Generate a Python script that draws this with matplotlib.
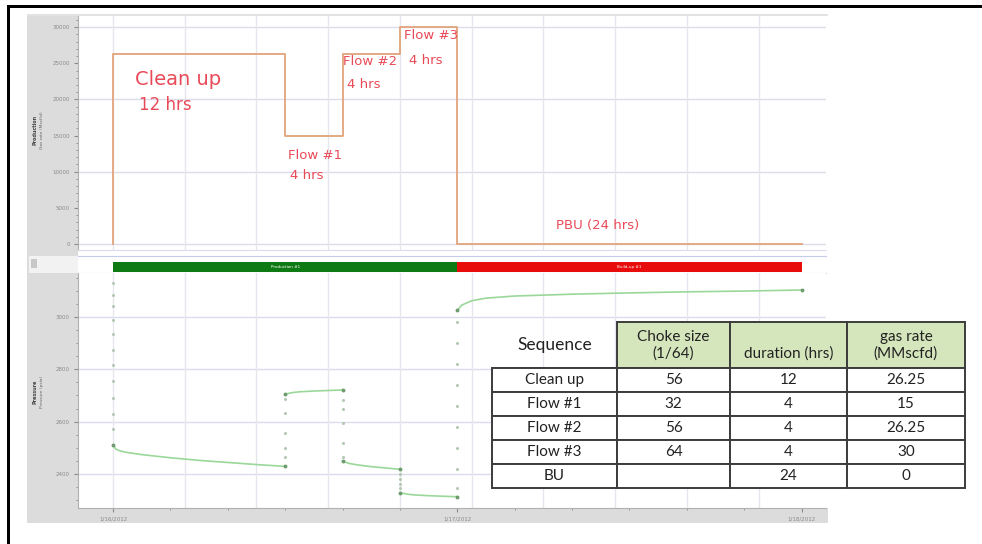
import matplotlib.pyplot as plt
from matplotlib.patches import Rectangle
from matplotlib.ticker import MultipleLocator, FixedLocator

# Well test sequence
stages = ['Clean up', 'Flow #1', 'Flow #2', 'Flow #3', 'BU']
choke_size = ['56', '32', '56', '64', '']
duration_hrs = [12, 4, 4, 4, 24]
gas_rate = [26.25, 15, 26.25, 30, 0]  # MMscfd

# Gauge pressure (hours from start of clean up, psia)
cleanup_t = [0.0, 0.2, 0.5, 1, 2, 4, 6, 8, 10, 12]
cleanup_p = [2510, 2495, 2488, 2482, 2474, 2462, 2452, 2444, 2436, 2429]
flow1_t = [12.0, 12.5, 13, 14, 15, 16]
flow1_p = [2705, 2711, 2714, 2717, 2719, 2721]
flow2_t = [16.0, 16.5, 17, 18, 19, 20]
flow2_p = [2448, 2440, 2435, 2428, 2423, 2418]
flow3_t = [20.0, 20.5, 21, 22, 23, 24]
flow3_p = [2328, 2323, 2320, 2317, 2315, 2313]
bu_t = [24.0, 24.3, 25, 26, 28, 32, 36, 40, 44, 48]
bu_p = [3025, 3045, 3062, 3072, 3080, 3087, 3092, 3096, 3099, 3103]

# sparse gauge readings while the rate was being changed
jump_times = [0, 12, 16, 20, 24]
jump_p = [
    [3130, 3085, 3040, 2990, 2935, 2875, 2815, 2755, 2690, 2630, 2570],
    [2463, 2501, 2558, 2634, 2688],
    [2684, 2650, 2596, 2520, 2463],
    [2400, 2380, 2362, 2345],
    [2345, 2420, 2500, 2580, 2660, 2740, 2820, 2900, 2980],
]

date_labels = ['1/16/2012', '1/17/2012', '1/18/2012']
period_names = ['Production #1', 'Build-up #1']

W, H = 982, 544
fig = plt.figure(figsize=(W / 100, H / 100), dpi=100)


def fx(px):
    return px / W


def fy(py):
    return 1 - py / H


def box(x0, y0, x1, y1, color, z=-5):
    fig.patches.append(Rectangle((fx(x0), fy(y1)), fx(x1) - fx(x0), (y1 - y0) / H,
                                 transform=fig.transFigure, facecolor=color,
                                 edgecolor='none', zorder=z))


# grey software frame around the plots
box(27, 14, 78, 523, '#dcdcdc')
box(27, 508, 828, 523, '#dcdcdc')
box(27, 14, 828, 16, '#e2e2e2')
box(29, 256, 78, 273, '#f2f2f2')
box(31, 259, 37, 268, '#c8c8c8')

grid_c = '#dcdcef'
tick_c = '#8a8a8a'
xmin, xmax = -2.44, 49.7

# cumulative stage boundaries
bounds = [0]
for d in duration_hrs:
    bounds.append(bounds[-1] + d)

# ---- production rate panel ----
ax1 = fig.add_axes([fx(78), fy(250), fx(826) - fx(78), (250 - 16) / H])
step_t = [0]
step_q = [0]
for i, q in enumerate(gas_rate):
    step_t += [bounds[i], bounds[i + 1]]
    step_q += [q * 1000, q * 1000]
for y in range(0, 30001, 10000):
    ax1.axhline(y, color=grid_c, lw=1, zorder=0)
for t in range(0, 50, 5):
    ax1.axvline(t, color='#e6e6ef', lw=1, zorder=0)
ax1.plot(step_t, step_q, color='#e2a47a', lw=1.3, zorder=3)
ax1.set_xlim(xmin, xmax)
ax1.set_ylim(-830, 31540)
ax1.yaxis.set_major_locator(MultipleLocator(5000))
ax1.yaxis.set_minor_locator(MultipleLocator(1000))
ax1.set_xticks([])
ax1.tick_params(axis='y', which='major', labelsize=4, colors=tick_c, length=3, pad=3)
ax1.tick_params(axis='y', which='minor', colors=tick_c, length=1.5)
for s in ['top', 'right']:
    ax1.spines[s].set_visible(False)
ax1.spines['left'].set_color('#b0b0b0')
ax1.spines['bottom'].set_color(grid_c)

red = '#e94a57'
ax1.text(1.5, 22700, 'Clean up', color=red, fontsize=14, va='center')
ax1.text(1.8, 19200, '12 hrs', color=red, fontsize=12, va='center')
ax1.text(12.2, 12300, 'Flow #1', color=red, fontsize=9.5, va='center')
ax1.text(12.35, 9500, '4 hrs', color=red, fontsize=9.5, va='center')
ax1.text(16.0, 25200, 'Flow #2', color=red, fontsize=9.5, va='center')
ax1.text(16.3, 22000, '4 hrs', color=red, fontsize=9.5, va='center')
ax1.text(20.3, 28800, 'Flow #3', color=red, fontsize=9.5, va='center')
ax1.text(20.65, 25400, '4 hrs', color=red, fontsize=9.5, va='center')
ax1.text(30.9, 2600, 'PBU (24 hrs)', color=red, fontsize=9.5, va='center')

fig.text(fx(35), fy(130), 'Production', rotation=90, fontsize=3.5,
         color='#444', ha='center', va='center', fontweight='bold')
fig.text(fx(42), fy(130), 'Gas rate (Mscf/d)', rotation=90, fontsize=3.2,
         color='#666', ha='center', va='center')

# ---- period strip ----
ax2 = fig.add_axes([fx(78), fy(273), fx(826) - fx(78), (273 - 256) / H])
flow_hrs = sum(duration_hrs[:4])
ax2.barh(0.36, flow_hrs, left=0, height=0.6, color='#0e7a14')
ax2.barh(0.36, duration_hrs[4], left=flow_hrs, height=0.6, color='#e80c0c')
ax2.text(flow_hrs / 2, 0.36, period_names[0], color='white', fontsize=3,
         ha='center', va='center')
ax2.text(flow_hrs + duration_hrs[4] / 2, 0.36, period_names[1], color='white',
         fontsize=3, ha='center', va='center')
ax2.set_xlim(xmin, xmax)
ax2.set_ylim(0, 1)
ax2.set_xticks([])
ax2.set_yticks([])
for s in ['left', 'right']:
    ax2.spines[s].set_visible(False)
ax2.spines['top'].set_color('#c4cce8')
ax2.spines['bottom'].set_color('#c4cce8')

# ---- pressure panel ----
ax3 = fig.add_axes([fx(78), fy(508), fx(826) - fx(78), (508 - 273) / H])
for y in range(2400, 3001, 200):
    ax3.axhline(y, color=grid_c, lw=1, zorder=0)
for t in range(0, 50, 5):
    ax3.axvline(t, color='#e6e6ef', lw=1, zorder=0)

line_c = '#9ad89a'
end_c = '#6f9c6f'
for tt, pp in [(cleanup_t, cleanup_p), (flow1_t, flow1_p), (flow2_t, flow2_p),
               (flow3_t, flow3_p), (bu_t, bu_p)]:
    ax3.plot(tt, pp, color=line_c, lw=1.2, zorder=3)
    ax3.plot([tt[0], tt[-1]], [pp[0], pp[-1]], 'o', color=end_c, ms=1.8, zorder=4)
for t, pts in zip(jump_times, jump_p):
    ax3.plot([t] * len(pts), pts, 'o', color='#b4c8b4', ms=1.2, zorder=3)

ax3.set_xlim(xmin, xmax)
ax3.set_ylim(2270, 3168)
ax3.yaxis.set_major_locator(MultipleLocator(200))
ax3.yaxis.set_minor_locator(MultipleLocator(50))
ax3.xaxis.set_major_locator(FixedLocator([0, 24, 48]))
ax3.xaxis.set_minor_locator(MultipleLocator(4))
ax3.set_xticklabels(date_labels)
ax3.tick_params(which='major', labelsize=4, colors=tick_c, length=3, pad=3)
ax3.tick_params(which='minor', colors=tick_c, length=1.5)
for s in ['top', 'right']:
    ax3.spines[s].set_visible(False)
ax3.spines['left'].set_color('#b0b0b0')
ax3.spines['bottom'].set_color('#b0b0b0')

fig.text(fx(35), fy(392), 'Pressure', rotation=90, fontsize=3.5,
         color='#444', ha='center', va='center', fontweight='bold')
fig.text(fx(42), fy(392), 'Pressure (psia)', rotation=90, fontsize=3.2,
         color='#666', ha='center', va='center')

# ---- summary table ----
axt = fig.add_axes([fx(492), fy(488), fx(965) - fx(492), (488 - 322) / H])
axt.axis('off')
rows = []
for i in range(len(stages)):
    rate_txt = f'{gas_rate[i]:g}'
    rows.append([stages[i], choke_size[i], str(duration_hrs[i]), rate_txt])
header = ['Sequence', 'Choke size\n(1/64)', '\nduration (hrs)', 'gas rate\n(MMscfd)']
tbl = axt.table(cellText=rows, colLabels=header, cellLoc='center',
                bbox=[0, 0, 1, 1])
tbl.auto_set_font_size(False)
col_w = [125, 113, 117, 118]
for (r, c), cell in tbl.get_celld().items():
    cell.set_width(col_w[c])
    cell.set_height(46 if r == 0 else 24)
    cell.set_edgecolor('#3c3c3c')
    cell.set_linewidth(1.4)
    cell.get_text().set_fontfamily('Lato')
    cell.get_text().set_fontsize(11)
    cell.get_text().set_color('#222222')
    if r == 0:
        if c == 0:
            cell.set_facecolor('white')
            cell.visible_edges = 'B'
            cell.get_text().set_fontsize(12.5)
        else:
            cell.set_facecolor('#d5e6bd')

# black frame on the left and top
box(7, 5, 10, 544, 'black', z=10)
box(7, 5, 982, 8, 'black', z=10)

fig.savefig('out.png', dpi=100, facecolor='white')
